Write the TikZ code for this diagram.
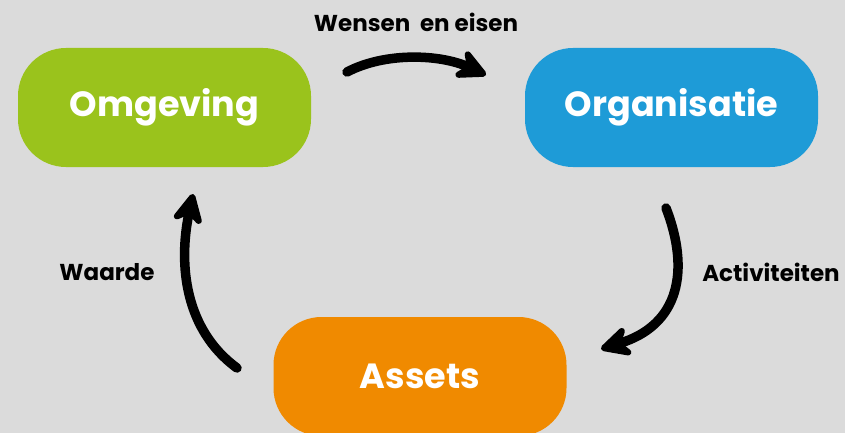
\documentclass[tikz,border=0pt]{standalone}
\usepackage{fontspec}
\setmainfont{Poppins}
\usetikzlibrary{arrows.meta}
\definecolor{achtergrond}{HTML}{DBDBDB}
\definecolor{groen}{HTML}{9AC31C}
\definecolor{blauw}{HTML}{1E9BD7}
\definecolor{oranje}{HTML}{F08A00}
\newcommand{\boxfont}{\fontsize{35}{38}\selectfont\bfseries}
\newcommand{\labelfont}{\fontsize{23}{25}\selectfont\bfseries}

\begin{document}
\begin{tikzpicture}[x=1pt,y=-1pt,
  blok/.style={rectangle,rounded corners=48pt,minimum width=293pt,minimum height=119pt,
    inner sep=0pt,text=white,font=\boxfont},
  pijl/.style={line width=9.5pt,line cap=round,
    -{Stealth[length=38pt,width=38pt,inset=13pt,round]}},
  tekst/.style={font=\labelfont,text=black}]

 \fill[achtergrond] (0,0) rectangle (845,433);
 \useasboundingbox (0,0) rectangle (845,433);

 % de drie blokken
 \node[blok,fill=groen] (omgeving) at (164.5,107.5) {Omgeving};
 \node[blok,fill=blauw] (organisatie) at (671.5,107.5) {Organisatie};
 \node[blok,fill=oranje] (assets) at (420,376.5) {Assets};

 % begin- en eindpunten van de pijlen
 \coordinate (wensen-a) at (347,72);
 \coordinate (wensen-b) at (486,75);
 \coordinate (activ-a) at (666,208);
 \coordinate (activ-b) at (601,349);
 \coordinate (waarde-a) at (237,368);
 \coordinate (waarde-b) at (193,194);

 \draw[pijl] (wensen-a) .. controls (385,52) and (440,54) .. (wensen-b);
 \draw[pijl] (activ-a) .. controls (690,270) and (680,325) .. (activ-b);
 \draw[pijl] (waarde-a) .. controls (185,330) and (178,265) .. (waarde-b);

 \node[tekst] (wensen) at (416,22) {Wensen\ \ en eisen};
 \node[tekst] (activiteiten) at (771,272) {Activiteiten};
 \node[tekst] (waarde) at (107,272) {Waarde};

\end{tikzpicture}
\end{document}
